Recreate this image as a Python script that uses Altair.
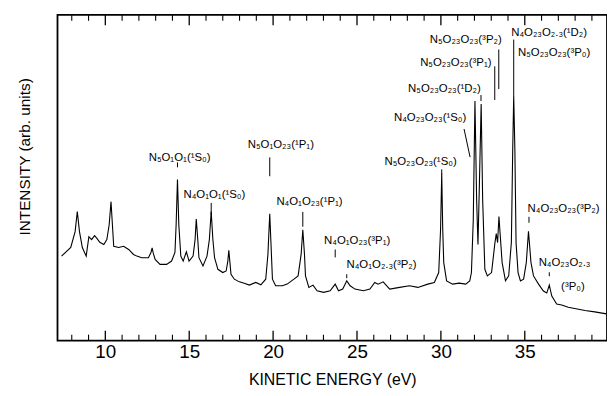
import altair as alt
import pandas as pd

# ---- spectrum (kinetic energy in eV, intensity in arbitrary units) ----
energy = [7.39, 7.94, 8.20, 8.33, 8.46, 8.63, 8.86, 9.02, 9.18, 9.36, 9.51, 9.67, 9.91,
          10.09, 10.23, 10.34, 10.44, 10.50, 10.80, 11.09, 11.39, 11.68, 11.88, 12.17,
          12.57, 12.72, 12.79, 12.86, 12.97, 13.26, 13.65, 13.95, 14.15, 14.22, 14.30,
          14.38, 14.50, 14.64, 14.83, 14.99, 15.23, 15.35, 15.42, 15.51, 15.58, 15.82,
          16.06, 16.20, 16.31, 16.41, 16.51, 16.71, 17.00, 17.20, 17.30, 17.36, 17.42,
          17.49, 17.69, 17.99, 18.28, 18.58, 18.97, 19.27, 19.56, 19.69, 19.80, 19.90,
          19.96, 20.15, 20.55, 20.84, 21.24, 21.49, 21.67, 21.77, 21.87, 21.93, 22.13,
          22.38, 22.62, 23.01, 23.40, 23.70, 23.90, 24.15, 24.39, 24.59, 24.88, 25.38,
          25.77, 26.06, 26.26, 26.56, 26.95, 27.54, 28.13, 28.63, 29.22, 29.61, 29.87,
          29.98, 30.05, 30.11, 30.17, 30.34, 30.70, 31.09, 31.48, 31.72, 31.82, 31.93,
          32.03, 32.13, 32.21, 32.30, 32.40, 32.49, 32.62, 32.77, 33.02, 33.22, 33.30,
          33.38, 33.46, 33.54, 33.65, 33.85, 34.04, 34.20, 34.28, 34.34, 34.41, 34.48,
          34.60, 34.74, 34.93, 35.09, 35.22, 35.37, 35.52, 35.82, 36.11, 36.31, 36.46,
          36.61, 36.90, 37.20, 37.59, 38.59, 39.17, 39.87]
intensity = [85.3, 94, 110, 130.3, 110, 94, 85.3, 105, 102, 106, 103, 99.3, 97,
             102, 117, 140.3, 112, 95.3, 94, 95.3, 92, 87, 85.3, 83.7,
             83.7, 89, 93.7, 88, 82, 77, 77, 80.3, 89, 117, 162.7,
             117, 85.3, 80.3, 89.7, 80.3, 85.3, 102, 122.7, 102, 83.7, 75.3,
             85.3, 102, 130.3, 102, 83.7, 72, 68.7, 70.3, 80, 91.3, 80,
             67, 62, 59.3, 58, 56, 58.7, 56.3, 62, 87, 128, 87,
             62, 55.3, 55.3, 57, 62, 65.3, 87, 112, 87, 65.3, 53.7,
             56, 50.3, 48.7, 50.3, 57, 50.3, 52, 60.3, 55.3, 52, 50.3,
             52, 58.7, 57, 59.3, 52, 53.7, 55.3, 53.7, 57, 58.7, 68.7,
             112, 168.7, 112, 78.7, 60.3, 57, 58, 57, 60.3, 68.7, 122,
             242, 142, 97, 162, 239, 142, 72, 65.3, 68.7, 98.7, 108,
             99, 125.3, 105.3, 78.7, 60.3, 65.3, 99, 192, 247, 192, 98.7,
             68.7, 60.3, 62, 78.7, 110.3, 78.7, 65.3, 57, 50, 48, 56,
             45, 37, 36, 33.7, 30.3, 29, 27]

# ---- axis tick positions ----
major_ticks = [10, 15, 20, 25, 30, 35]
minor_ticks = [8, 9, 11, 12, 13, 14, 16, 17, 18, 19, 21, 22, 23, 24,
               26, 27, 28, 29, 31, 32, 33, 34, 36, 37, 38, 39]

# ---- peak assignments ----
ann_labels = ["N₅O₁O₁(¹S₀)", "N₄O₁O₁(¹S₀)", "N₅O₁O₂₃(¹P₁)", "N₄O₁O₂₃(¹P₁)",
              "N₄O₁O₂₃(³P₁)", "N₄O₁O₂.₃(³P₂)", "N₅O₂₃O₂₃(¹S₀)", "N₄O₂₃O₂₃(¹S₀)",
              "N₅O₂₃O₂₃(¹D₂)", "N₅O₂₃O₂₃(³P₁)", "N₅O₂₃O₂₃(³P₂)", "N₄O₂₃O₂.₃(¹D₂)",
              "N₅O₂₃O₂₃(³P₀)", "N₄O₂₃O₂₃(³P₂)", "N₄O₂₃O₂.₃", "(³P₀)"]
ann_x = [14.43, 16.50, 20.46, 22.17, 25.01, 26.46, 28.79, 29.36,
         30.21, 30.89, 31.48, 36.45, 36.75, 37.31, 37.37, 37.87]
ann_y = [184, 147, 197, 140, 101, 76, 180, 225,
         254, 280, 304, 311, 290, 133, 78, 54]

# marker lines pointing at the peaks (start / end)
mk_x1 = [14.30, 16.31, 19.80, 21.77, 23.70, 24.39, 30.05, 31.38, 32.39, 33.21, 33.45, 34.34, 35.25, 36.46]
mk_x2 = [14.30, 16.31, 19.80, 21.77, 23.70, 24.39, 30.05, 31.74, 32.39, 33.21, 33.45, 34.34, 35.25, 36.46]
mk_y1 = [180, 139, 185, 130, 92, 67, 173, 213.7, 248, 277, 294, 304, 125, 69]
mk_y2 = [175, 127, 166, 115, 84, 63, 168, 185.3, 242, 243, 254, 247, 119, 65]

X_DOMAIN = [7.15, 39.9]
Y_DOMAIN = [0, 329]
W, H = 555, 329
FONT = "Liberation Sans, DejaVu Sans, sans-serif"

spec_df = pd.DataFrame({"energy": energy, "intensity": intensity})
ann_df = pd.DataFrame({"label": ann_labels, "x": ann_x, "y": ann_y})
mk_df = pd.DataFrame({"x": mk_x1, "x2": mk_x2, "y": mk_y1, "y2": mk_y2})
maj_df = pd.DataFrame({"t": major_ticks})
min_df = pd.DataFrame({"t": minor_ticks})

xscale = alt.Scale(domain=X_DOMAIN, nice=False, zero=False)
yscale = alt.Scale(domain=Y_DOMAIN, nice=False, zero=False)

xaxis = alt.Axis(values=major_ticks, ticks=False, tickSize=0, grid=False, domain=False,
                 labelFont=FONT, labelFontSize=19, labelColor="black", labelPadding=2,
                 title="KINETIC ENERGY (eV)", titleFont=FONT, titleFontSize=16,
                 titleFontWeight="normal", titleColor="black", titleY=39,
                 titleBaseline="middle")
yaxis = alt.Axis(labels=False, ticks=False, grid=False, domain=False,
                 title="INTENSITY (arb. units)", titleFont=FONT, titleFontSize=15.5,
                 titleFontWeight="normal", titleColor="black", titleAngle=270,
                 titleX=-33, titleY=143, titleAlign="center", titleBaseline="middle")

line = alt.Chart(spec_df).mark_line(color="black", strokeWidth=1.1).encode(
    x=alt.X("energy:Q", scale=xscale, axis=xaxis),
    y=alt.Y("intensity:Q", scale=yscale, axis=yaxis),
)

def tick_layer(df, y0, y1, width):
    return alt.Chart(df).mark_rule(color="black", strokeWidth=width).encode(
        x=alt.X("t:Q", scale=xscale),
        y=alt.value(y0), y2=alt.value(y1))

bottom_major = tick_layer(maj_df, H, H - 10, 1.3)
bottom_minor = tick_layer(min_df, H, H - 6, 1.1)
top_major = tick_layer(maj_df, 0, 10.5, 1.3)
top_minor = tick_layer(min_df, 0, 6, 1.1)

markers = alt.Chart(mk_df).mark_rule(color="black", strokeWidth=1).encode(
    x=alt.X("x:Q", scale=xscale), x2="x2:Q",
    y=alt.Y("y:Q", scale=yscale), y2="y2:Q")

texts = alt.Chart(ann_df).mark_text(font=FONT, fontSize=11.5, color="black",
                                    align="center", baseline="middle").encode(
    x=alt.X("x:Q", scale=xscale), y=alt.Y("y:Q", scale=yscale), text="label:N")

chart = alt.layer(line, bottom_major, bottom_minor, top_major, top_minor,
                  markers, texts).properties(
    width=W, height=H,
    padding={"left": 50, "top": 5, "right": 0, "bottom": 46},
    autosize=alt.AutoSizeParams(type="none"),
    background="white",
).configure_view(stroke="black", strokeWidth=1.8)

chart.save("out.html", embed_options={"renderer": "svg", "actions": False})
